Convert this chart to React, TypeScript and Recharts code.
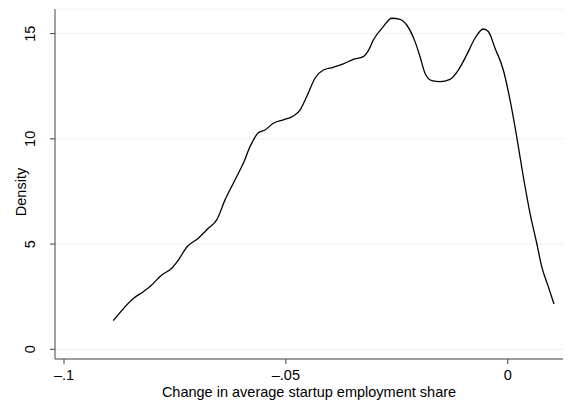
import React from "react";
import { LineChart, Line, XAxis, YAxis, CartesianGrid } from "recharts";

// Kernel density estimate of the change in average startup employment share
const shareChange = [
  -0.08889, -0.08438, -0.08213, -0.08062, -0.07798, -0.07573, -0.07424, -0.07235,
  -0.06973, -0.06748, -0.06558, -0.06371, -0.06184, -0.06033, -0.05959, -0.05808,
  -0.05621, -0.0547, -0.05283, -0.05057, -0.04832, -0.04681, -0.0453, -0.04343,
  -0.04156, -0.03931, -0.03705, -0.0348, -0.03254, -0.03142, -0.03029, -0.02804,
  -0.02614, -0.02427, -0.02276, -0.02089, -0.01977, -0.01864, -0.01713, -0.01526,
  -0.013, -0.01113, -0.00924, -0.00737, -0.0055, -0.00437, -0.00286, -0.00099,
  0.00052, 0.00203, 0.00352, 0.00503, 0.00654, 0.00766, 0.00915, 0.01043,
];
const density = [
  1.36, 2.42, 2.74, 2.98, 3.53, 3.85, 4.24, 4.85,
  5.28, 5.75, 6.15, 7.1, 7.89, 8.52, 8.84, 9.63,
  10.29, 10.42, 10.74, 10.9, 11.09, 11.37, 12.01, 12.88,
  13.27, 13.4, 13.56, 13.78, 13.91, 14.19, 14.7, 15.33,
  15.73, 15.68, 15.41, 14.62, 13.91, 13.12, 12.77, 12.72,
  12.83, 13.27, 13.99, 14.78, 15.22, 15.1, 14.31, 13.27,
  11.85, 10.1, 8.2, 6.46, 5.04, 3.93, 2.98, 2.15,
];
const xTicks = [-0.1, -0.05, 0];
const yTicks = [0, 5, 10, 15];

const data = shareChange.map((x, i) => ({ x, d: density[i] }));

const FONT = "Liberation Sans, Arial, Helvetica, sans-serif";
const FS = 14.5;

const fmtX = (v: number) => {
  if (v === 0) return "0";
  const s = Math.abs(v).toString().replace(/^0/, "");
  return (v < 0 ? "\u2013" : "") + s;
};

const YTick = (props: any) => {
  const { x, y, payload } = props;
  return (
    <text
      x={x - 13}
      y={y}
      transform={`rotate(-90, ${x - 13}, ${y})`}
      textAnchor="middle"
      fontSize={FS}
      fontFamily={FONT}
      fill="#000"
    >
      {payload.value}
    </text>
  );
};

const XTick = (props: any) => {
  const { x, y, payload } = props;
  return (
    <text
      x={x}
      y={y + 14}
      textAnchor="middle"
      fontSize={FS}
      fontFamily={FONT}
      fill="#000"
    >
      {fmtX(payload.value)}
    </text>
  );
};

export default function App() {
  return (
    <div style={{ position: "absolute", left: 0, top: 0, width: 570, height: 403, background: "#fff" }}>
      <LineChart
        width={570}
        height={403}
        data={data}
        margin={{ top: 9, right: 7, bottom: 14, left: 10 }}
      >
        <CartesianGrid vertical={false} stroke="#eaf2f3" strokeWidth={1} />
        <XAxis
          dataKey="x"
          type="number"
          domain={[-0.10203, 0.01246]}
          ticks={xTicks}
          tick={<XTick />}
          tickLine={{ stroke: "#444" }}
          tickSize={5}
          axisLine={{ stroke: "#444" }}
          height={30}
          interval={0}
          allowDataOverflow
        />
        <YAxis
          type="number"
          domain={[-0.46, 16.17]}
          ticks={yTicks}
          tick={<YTick />}
          tickLine={{ stroke: "#444" }}
          tickSize={5}
          axisLine={{ stroke: "#444" }}
          width={45}
          interval={0}
          allowDataOverflow
        />
        <Line
          type="monotone"
          dataKey="d"
          stroke="#000"
          strokeWidth={1.3}
          dot={false}
          isAnimationActive={false}
        />
        <text
          x={26}
          y={192}
          transform="rotate(-90, 26, 192)"
          textAnchor="middle"
          fontSize={FS}
          fontFamily={FONT}
          fill="#000"
        >
          Density
        </text>
        <text
          x={309}
          y={397}
          textAnchor="middle"
          fontSize={FS}
          fontFamily={FONT}
          fill="#000"
        >
          Change in average startup employment share
        </text>
      </LineChart>
    </div>
  );
}
